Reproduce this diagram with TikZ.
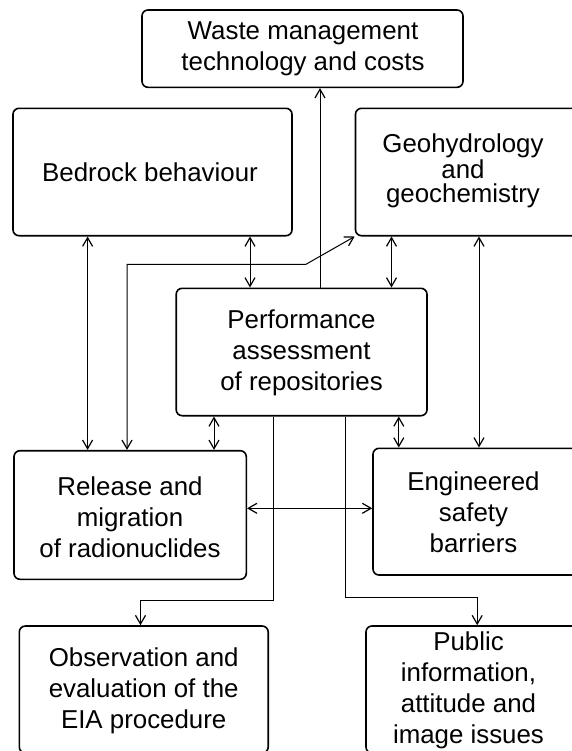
\documentclass[tikz,border=0pt]{standalone}
\usepackage{fontspec}
\setmainfont{Liberation Sans}
\usetikzlibrary{arrows.meta,fit}
\begin{document}
\begin{tikzpicture}[x=0.75pt,y=-0.75pt,
  box/.style={draw, line width=1.2pt, rounded corners=4.5pt, inner sep=0pt},
  txt/.style={align=center, font=\fontsize{19.4}{23.25}\selectfont, inner sep=0pt},
  con/.style={line width=0.75pt},
  >={Straight Barb[length=6.5pt,width=7.5pt,line width=0.9pt]}]
\useasboundingbox (0,0) rectangle (572,751);
\clip (0,0) rectangle (572,751);
% boxes
\node[box, fit={(142,10) (463,87.3)}] (waste) {};
\node[box, fit={(13,108.3) (292,235.7)}] (bedrock) {};
\node[box, fit={(355.5,108.3) (590,235.7)}] (geo) {};
\node[box, fit={(176.2,288.3) (427,415.7)}] (perf) {};
\node[box, fit={(14,450.7) (246.3,579.3)}] (release) {};
\node[box, fit={(373,448.3) (590,575)}] (eng) {};
\node[box, fit={(19.3,626) (268.2,753)}] (obs) {};
\node[box, fit={(366,626) (590,753)}] (public) {};
% texts
\node[txt] (wastet) at (303,49) {Waste management\\technology and costs};
\node[txt] (bedrockt) at (150,172) {Bedrock behaviour};
\node[txt, font=\fontsize{19.4}{18}\selectfont] (geot) at (463,171) {Geohydrology\\and\\geochemistry};
\node[txt] (perft) at (301.5,352.5) {Performance\\assessment\\of repositories};
\node[txt] (releaset) at (130,517) {Release and\\migration\\of radionuclides};
\node[txt] (engt) at (473.5,512.5) {Engineered\\safety\\barriers};
\node[txt] (obst) at (143.7,691) {Observation and\\evaluation of the\\EIA procedure};
\node[txt] (publict) at (468.5,690.5) {Public\\information,\\attitude and\\image issues};
% helper coordinates
\coordinate (c1) at (320,0);
\coordinate (c2) at (250,0);
\coordinate (c3) at (391.5,0);
\coordinate (c4) at (87.6,0);
\coordinate (c5) at (479,0);
\coordinate (c6) at (127,264.3);
\coordinate (c7) at (306,264.3);
\coordinate (c8) at (214,0);
\coordinate (c9) at (398.8,0);
\coordinate (c10) at (0,508.3);
\coordinate (c11) at (273,600);
\coordinate (c12) at (140.5,600);
\coordinate (c13) at (345.5,597.3);
\coordinate (c14) at (477.2,597.3);
% connectors
\draw[con,->] (perf.north -| c1) -- (waste.south -| c1);
\draw[con,<->] (bedrock.south -| c2) -- (perf.north -| c2);
\draw[con,<->] (geo.south -| c3) -- (perf.north -| c3);
\draw[con,<->] (bedrock.south -| c4) -- (release.north -| c4);
\draw[con,<->] (geo.south -| c5) -- (eng.north -| c5);
\draw[con,<->] (release.north -| c6) -- (c6) -- (c7) -- (geo.south west);
\draw[con,<->] (perf.south -| c8) -- (release.north -| c8);
\draw[con,<->] (perf.south -| c9) -- (eng.north -| c9);
\draw[con,<->] (release.east |- c10) -- (eng.west |- c10);
\draw[con,->] (perf.south -| c11) -- (c11) -- (c12) -- (obs.north -| c12);
\draw[con,->] (perf.south -| c13) -- (c13) -- (c14) -- (public.north -| c14);
\end{tikzpicture}
\end{document}
